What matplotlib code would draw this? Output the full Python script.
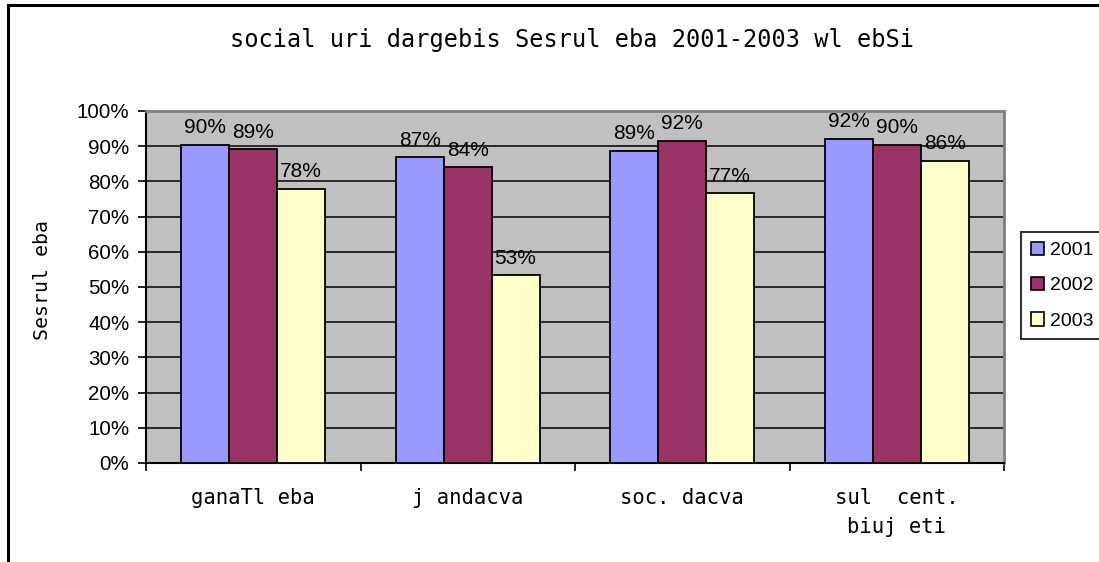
import matplotlib
matplotlib.use("Agg")
import matplotlib.pyplot as plt
from matplotlib import font_manager
from matplotlib.lines import Line2D
from matplotlib.patches import Patch
import numpy as np

title = "social uri dargebis Sesrul eba 2001-2003 wl ebSi"
ylabel = "Sesrul eba"
categories = ["ganaTl eba", "j andacva", "soc. dacva", "sul  cent.\nbiuj eti"]
series_names = ["2001", "2002", "2003"]
labels_2001 = ["90%", "87%", "89%", "92%"]
labels_2002 = ["89%", "84%", "92%", "90%"]
labels_2003 = ["78%", "53%", "77%", "86%"]
heights_2001 = [90.3, 86.8, 88.6, 92.0]
heights_2002 = [89.1, 84.0, 91.4, 90.3]
heights_2003 = [77.8, 53.3, 76.6, 85.8]
colors = ["#9999FF", "#993366", "#FFFFCC"]
yticks = [0, 10, 20, 30, 40, 50, 60, 70, 80, 90, 100]

available = {f.name for f in font_manager.fontManager.ttflist}
def pick(prefs):
    for p in prefs:
        if p in available:
            return p
    return "DejaVu Sans"

sans = pick(["Liberation Sans", "Arimo", "Noto Sans", "DejaVu Sans"])
mono = pick(["DejaVu Sans Mono", "Liberation Mono"])

fig = plt.figure(figsize=(10.99, 5.62), dpi=100)
ax = fig.add_axes([146/1099, 1-463/562, (1004-146)/1099, (463-111)/562])
ax.set_facecolor("#C0C0C0")

x = np.arange(len(categories)) + 0.5
bw = 0.223
heights = [heights_2001, heights_2002, heights_2003]
labels = [labels_2001, labels_2002, labels_2003]
for i, (h, lab, c) in enumerate(zip(heights, labels, colors)):
    pos = x + (i - 1) * bw
    ax.bar(pos, h, width=bw, color=c, edgecolor="black", linewidth=1.3, zorder=3)
    for px, py, t in zip(pos, h, lab):
        ax.annotate(t, (px, py), xytext=(0, 8.5), textcoords="offset points",
                    ha="center", va="baseline", fontsize=15, family=sans, zorder=4)

ax.set_xlim(0, 4)
ax.set_ylim(0, 100)
ax.set_yticks(yticks)
ax.set_yticklabels([f"{v}%" for v in yticks], family=sans, fontsize=14.8)
for v in yticks[1:-1]:
    ax.axhline(v, color="black", linewidth=1.1, zorder=1)

ax.set_xticks([0, 1, 2, 3, 4])
ax.set_xticklabels([])
ax.set_xticks(x, minor=True)
ax.set_xticklabels(categories, minor=True, fontsize=14.8, linespacing=1.55, family=mono)
ax.tick_params(axis="x", which="major", length=6, width=1.2, direction="out")
ax.tick_params(axis="x", which="minor", length=0, pad=18)
ax.tick_params(axis="y", length=6, width=1.2, direction="out", pad=6)

for s in ["left", "bottom"]:
    ax.spines[s].set_color("black")
    ax.spines[s].set_linewidth(1.5)
for s in ["top", "right"]:
    ax.spines[s].set_color("#808080")
    ax.spines[s].set_linewidth(2)

fig.text(572/1099, 1-40/562, title, ha="center", va="center", fontsize=17, family=mono)
fig.text(42/1099, 1-280/562, ylabel, ha="center", va="center", rotation=90, fontsize=14.3, family=mono)

handles = [Patch(facecolor=c, edgecolor="black", linewidth=1.2) for c in colors]
leg = fig.legend(handles, series_names, loc="upper left", bbox_to_anchor=(1021/1099, 1-232/562),
                 bbox_transform=fig.transFigure, frameon=True, fancybox=False,
                 prop={"family": sans, "size": 14}, handlelength=0.7, handleheight=0.7,
                 handletextpad=0.3, labelspacing=0.9, borderpad=0.5, borderaxespad=0)
leg.get_frame().set_edgecolor("black")
leg.get_frame().set_linewidth(1.5)

fig.add_artist(Line2D([8/1099, 8/1099], [0, 1-5/562], transform=fig.transFigure, color="black", linewidth=2.2))
fig.add_artist(Line2D([8/1099, 1], [1-5/562, 1-5/562], transform=fig.transFigure, color="black", linewidth=2.2))

fig.savefig("out.png", dpi=100)
